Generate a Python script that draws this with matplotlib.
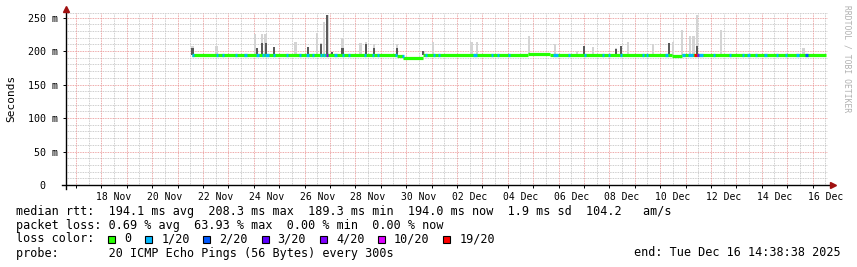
import numpy as np
import pandas as pd
import matplotlib
matplotlib.use("Agg")
import matplotlib.pyplot as plt
from matplotlib.patches import Rectangle

# time is in days since 2025-11-01 00:00
origin = pd.Timestamp("2025-11-01")
t_start = (pd.Timestamp("2025-11-16 14:38:38") - origin) / pd.Timedelta(days=1)
t_end = (pd.Timestamp("2025-12-16 14:38:38") - origin) / pd.Timedelta(days=1)

# median rtt (ms), step segments: value holds from median_t[i] to median_t[i+1]
median_t = [20.57, 28.64, 28.88, 29.67, 33.80, 34.67, 39.47, 39.86, 45.53]
median_v = [194.3, 192.8, 189.6, 194.3, 196.0, 194.3, 192.0, 194.3]

# loss events on the median line: start, end, lost pings out of 20
loss_start = [20.57, 21.50, 21.77, 22.28, 22.62, 23.11, 23.31, 23.44, 23.76, 24.29,
              24.80, 25.06, 25.31, 25.61, 25.73, 25.85, 26.18, 26.46, 26.71, 27.36,
              27.64, 27.87, 28.56, 28.82, 29.74, 30.06, 30.26, 31.63, 32.36, 32.56,
              33.01, 34.78, 35.37, 36.02, 36.71, 36.95, 37.42, 38.27, 38.46, 39.19,
              39.86, 40.10, 40.33, 40.45, 40.53, 41.08, 41.73, 42.24, 42.44, 42.74,
              43.11, 43.58, 43.90, 44.37, 44.70]
loss_end = [20.65, 21.58, 21.85, 22.36, 22.74, 23.19, 23.39, 23.60, 23.84, 24.37,
            24.88, 25.18, 25.39, 25.69, 25.81, 25.91, 26.26, 26.54, 26.79, 27.44,
            27.72, 27.95, 28.64, 28.90, 29.82, 30.14, 30.33, 31.79, 32.44, 32.64,
            33.09, 34.98, 35.45, 36.10, 36.79, 37.03, 37.50, 38.35, 38.54, 39.31,
            39.98, 40.30, 40.45, 40.53, 40.69, 41.16, 41.81, 42.32, 42.52, 42.81,
            43.19, 43.66, 43.98, 44.45, 44.82]
loss_pings = [1, 1, 1, 1, 1, 1, 1, 1, 1, 1,
              1, 1, 1, 1, 1, 4, 1, 1, 1, 1,
              1, 1, 1, 1, 1, 1, 1, 1, 1, 1,
              1, 1, 1, 1, 1, 1, 1, 1, 1, 1,
              1, 1, 19, 4, 1, 1, 1, 1, 1, 1,
              1, 1, 1, 1, 2]

# smoke: time, highest ping (light) and upper quartile (dark) in ms
smoke_t = [20.59, 21.53, 23.05, 23.13, 23.33, 23.48, 23.80, 24.65, 25.14, 25.49,
           25.65, 25.77, 25.89, 26.08, 26.50, 27.19, 27.42, 27.74, 28.64, 29.67,
           30.06, 31.59, 31.79, 33.84, 34.86, 35.73, 36.00, 36.36, 37.26, 37.46,
           37.74, 38.72, 39.35, 39.51, 39.86, 40.18, 40.30, 40.45, 41.40, 44.63]
smoke_hi = [207, 207, 225, 205, 225, 225, 206, 214, 206, 227,
            212, 243, 254, 199, 220, 212, 214, 210, 210, 200,
            214, 214, 214, 222, 210, 200, 207, 206, 205, 208,
            214, 210, 212, 214, 232, 222, 222, 254, 232, 205]
smoke_mid = [205, 0, 0, 205, 212, 212, 206, 0, 206, 0,
             210, 0, 254, 199, 204, 0, 210, 204, 204, 200,
             0, 0, 0, 0, 0, 0, 207, 0, 203, 208,
             0, 0, 212, 0, 0, 0, 0, 207, 0, 0]

loss_levels = [0, 1, 2, 3, 4, 10, 19]
loss_colors = ["#26ff00", "#00b8ff", "#0059ff", "#5e00ff", "#7e00ff", "#dd00ff", "#ff0000"]

y_ticks = [0, 50, 100, 150, 200, 250]
y_ticklabels = ["0  ", "50 m", "100 m", "150 m", "200 m", "250 m"]

label_days = pd.date_range("2025-11-18 12:00", "2025-12-16 12:00", freq="2D")
midnights = pd.date_range("2025-11-17", "2025-12-16", freq="D")
noons = pd.date_range("2025-11-16 12:00", "2025-12-16 12:00", freq="D")

legend_lines = [
    "median rtt:  194.1 ms avg  208.3 ms max  189.3 ms min  194.0 ms now  1.9 ms sd  104.2   am/s",
    "packet loss: 0.69 % avg  63.93 % max  0.00 % min  0.00 % now",
]
probe_text = "probe:       20 ICMP Echo Pings (56 Bytes) every 300s"
end_text = "end: Tue Dec 16 14:38:38 2025"


def days(ts):
    return (ts - origin) / pd.Timedelta(days=1)


W, H = 857, 267
fig = plt.figure(figsize=(W / 100, H / 100), dpi=100)
fig.patch.set_facecolor("white")
ax = fig.add_axes([66 / W, (H - 185) / H, 762 / W, 172 / H])
mono = "DejaVu Sans Mono"

ymax = 172 / 0.67
ax.set_xlim(t_start, t_end)
ax.set_ylim(0, ymax)

# grid
dot = (0, (1, 1))
glw = 0.6
for v in np.arange(10, ymax, 10):
    if v % 50:
        ax.axhline(v, color="#bcbcbc", lw=glw, ls=dot, zorder=0)
for v in days(noons):
    ax.axvline(v, color="#bcbcbc", lw=glw, ls=dot, zorder=0)
for v in y_ticks[1:]:
    ax.axhline(v, color="#e88c8c", lw=glw, ls=dot, zorder=0.5)
for v in days(midnights):
    ax.axvline(v, color="#e88c8c", lw=glw, ls=dot, zorder=0.5)
ax.axhline(ymax, color="#bcbcbc", lw=glw, ls=dot, zorder=0)

# smoke
sm_t = np.array(smoke_t)
base = np.array([median_v[np.searchsorted(median_t, t, side="right") - 1] for t in sm_t])
hi = np.array(smoke_hi, float)
mid = np.array(smoke_mid, float)
ax.bar(sm_t, hi - base, bottom=base, width=0.11, color="#d4d4d4", zorder=1)
m = mid > 0
ax.bar(sm_t[m], mid[m] - base[m], bottom=base[m], width=0.09, color="#5a5a5a", zorder=2)

# median line, colored by loss
lw = 2.3
for i in range(len(median_v)):
    ax.plot([median_t[i], median_t[i + 1]], [median_v[i], median_v[i]],
            color=loss_colors[0], lw=lw, solid_capstyle="butt", zorder=3)
for s, e, p in zip(loss_start, loss_end, loss_pings):
    i = np.searchsorted(median_t, s, side="right") - 1
    ax.plot([s, e], [median_v[i], median_v[i]], color=loss_colors[loss_levels.index(p)],
            lw=lw, solid_capstyle="butt", zorder=4)

# axes
for sp in ax.spines.values():
    sp.set_visible(False)
ax.plot([-0.005, 1.004], [0, 0], transform=ax.transAxes, color="black", lw=1.0, clip_on=False, zorder=5)
ax.plot([0, 0], [-0.025, 1.02], transform=ax.transAxes, color="black", lw=1.0, clip_on=False, zorder=5)
ax.plot([1.006], [0], transform=ax.transAxes, marker=">", ms=4, color="#a01010", clip_on=False, zorder=6)
ax.plot([0], [1.025], transform=ax.transAxes, marker="^", ms=4, color="#a01010", clip_on=False, zorder=6)

ax.set_xticks(days(label_days))
ax.set_xticklabels([d.strftime("%d %b") for d in label_days], family=mono, fontsize=7)
ax.set_xticks(days(midnights), minor=True)
ax.tick_params(axis="x", which="major", length=0, pad=5)
ax.tick_params(axis="x", which="minor", length=2.5, width=0.7, color="black")
ax.set_yticks(y_ticks)
ax.set_yticklabels(y_ticklabels, family=mono, fontsize=7.2)
ax.tick_params(axis="y", length=2, width=0.7, pad=4)

fig.text(11 / W, 1 - 98 / H, "Seconds", rotation=90, family=mono, fontsize=8,
         ha="center", va="center")
fig.text(847 / W, 1 - 5 / H, "RRDTOOL / TOBI OETIKER", rotation=270, family=mono,
         fontsize=5.8, color="#b0b0b0", ha="center", va="top")

# legend
fs = 8.5
cw = 7.1
rows_y = [211, 225, 239, 253]
for txt, y in zip(legend_lines, rows_y[:2]):
    fig.text(16 / W, 1 - y / H, txt, family=mono, fontsize=fs, va="center")
fig.text(16 / W, 1 - rows_y[2] / H, "loss color:", family=mono, fontsize=fs, va="center")
c = 13.0
for lv, col in zip(loss_levels, loss_colors):
    x0 = 16 + c * cw
    fig.patches.append(Rectangle((x0 / W, 1 - 242.7 / H), 7 / W, 7 / H, transform=fig.transFigure,
                                 facecolor=col, edgecolor="black", lw=0.8))
    lab = "0" if lv == 0 else f"{lv}/20"
    fig.text((x0 + 16) / W, 1 - rows_y[2] / H, lab, family=mono, fontsize=fs, va="center")
    c += 2.2 + len(lab) + 2
fig.text(16 / W, 1 - rows_y[3] / H, probe_text, family=mono, fontsize=fs, va="center")
fig.text(841 / W, 1 - rows_y[3] / H, end_text, family=mono, fontsize=fs, va="center", ha="right")

fig.savefig("out.png", dpi=100, facecolor="white")
